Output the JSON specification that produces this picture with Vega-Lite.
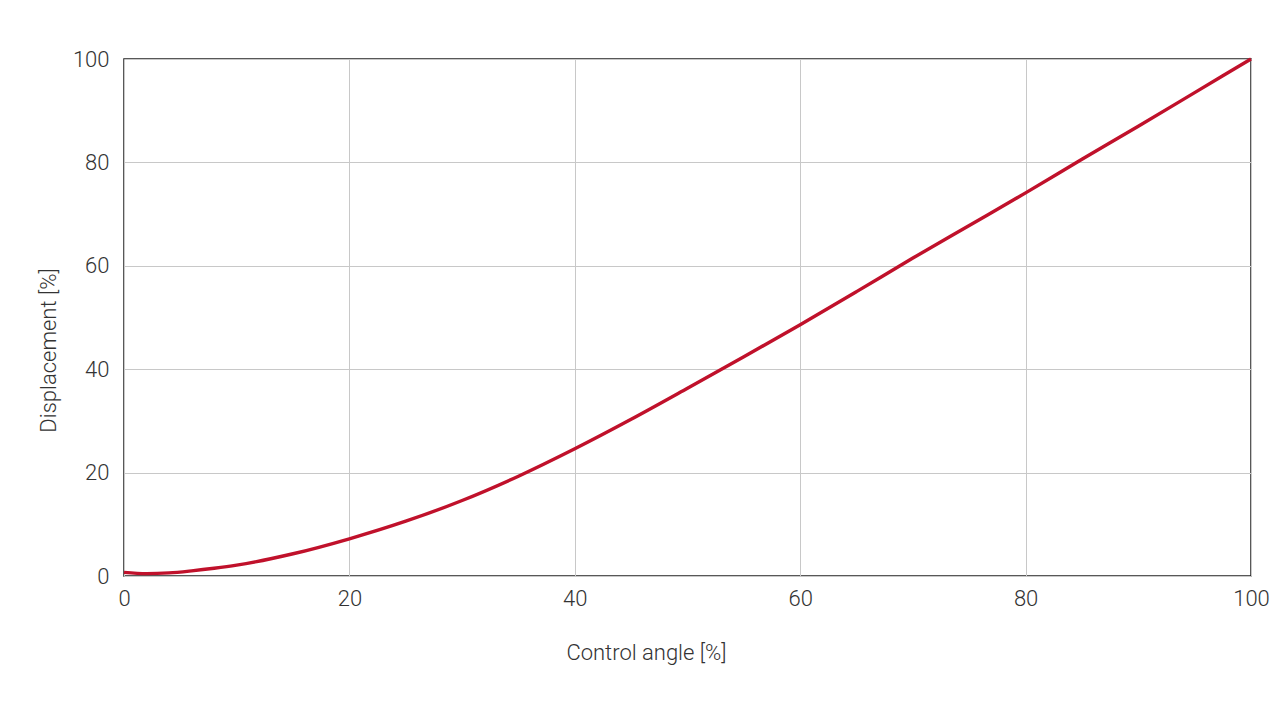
{
  "$schema": "https://vega.github.io/schema/vega-lite/v6.json",
  "autosize": "none",
  "width": 1127,
  "height": 517,
  "padding": {"left": 124, "top": 59, "right": 37, "bottom": 127},
  "background": "#ffffff",
  "config": {
    "font": "Roboto",
    "view": {"stroke": "#222222", "strokeWidth": 1.5},
    "axis": {
      "grid": true,
      "gridColor": "#c8c8c8",
      "gridWidth": 1,
      "domain": false,
      "ticks": false,
      "tickSize": 0,
      "labelFont": "Roboto",
      "labelFontSize": 22,
      "labelFontWeight": 300,
      "labelColor": "#333333",
      "labelFlush": false,
      "titleFont": "Roboto",
      "titleFontSize": 22,
      "titleFontWeight": 300,
      "titleColor": "#333333"
    }
  },
  "data": {
    "values": [
      {"angle": 0, "disp": 0.7},
      {"angle": 2, "disp": 0.45},
      {"angle": 4, "disp": 0.6},
      {"angle": 6, "disp": 1.0},
      {"angle": 8, "disp": 1.5},
      {"angle": 10, "disp": 2.1},
      {"angle": 15, "disp": 4.3},
      {"angle": 20, "disp": 7.2},
      {"angle": 25, "disp": 10.6},
      {"angle": 30, "disp": 14.6},
      {"angle": 35, "disp": 19.3},
      {"angle": 40, "disp": 24.6},
      {"angle": 45, "disp": 30.3},
      {"angle": 50, "disp": 36.3},
      {"angle": 55, "disp": 42.4},
      {"angle": 60, "disp": 48.6},
      {"angle": 65, "disp": 55.0},
      {"angle": 70, "disp": 61.5},
      {"angle": 75, "disp": 67.8},
      {"angle": 80, "disp": 74.1},
      {"angle": 85, "disp": 80.6},
      {"angle": 90, "disp": 87.0},
      {"angle": 95, "disp": 93.5},
      {"angle": 100, "disp": 100}
    ]
  },
  "mark": {"type": "line", "color": "#c0112b", "strokeWidth": 3.4, "interpolate": "monotone", "clip": false},
  "encoding": {
    "x": {
      "field": "angle",
      "type": "quantitative",
      "scale": {"domain": [0, 100], "nice": false, "zero": false},
      "axis": {
        "title": "Control angle [%]",
        "values": [0, 20, 40, 60, 80, 100],
        "labelPadding": 12,
        "labelBaseline": "top",
        "titleX": 522,
        "titleY": 83,
        "titleBaseline": "alphabetic",
        "titleAlign": "center"
      }
    },
    "y": {
      "field": "disp",
      "type": "quantitative",
      "scale": {"domain": [0, 100], "nice": false, "zero": false},
      "axis": {
        "title": "Displacement [%]",
        "values": [0, 20, 40, 60, 80, 100],
        "labelPadding": 15,
        "titleAngle": -90,
        "titleX": -69,
        "titleY": 291,
        "titleBaseline": "alphabetic",
        "titleAlign": "center"
      }
    }
  }
}
